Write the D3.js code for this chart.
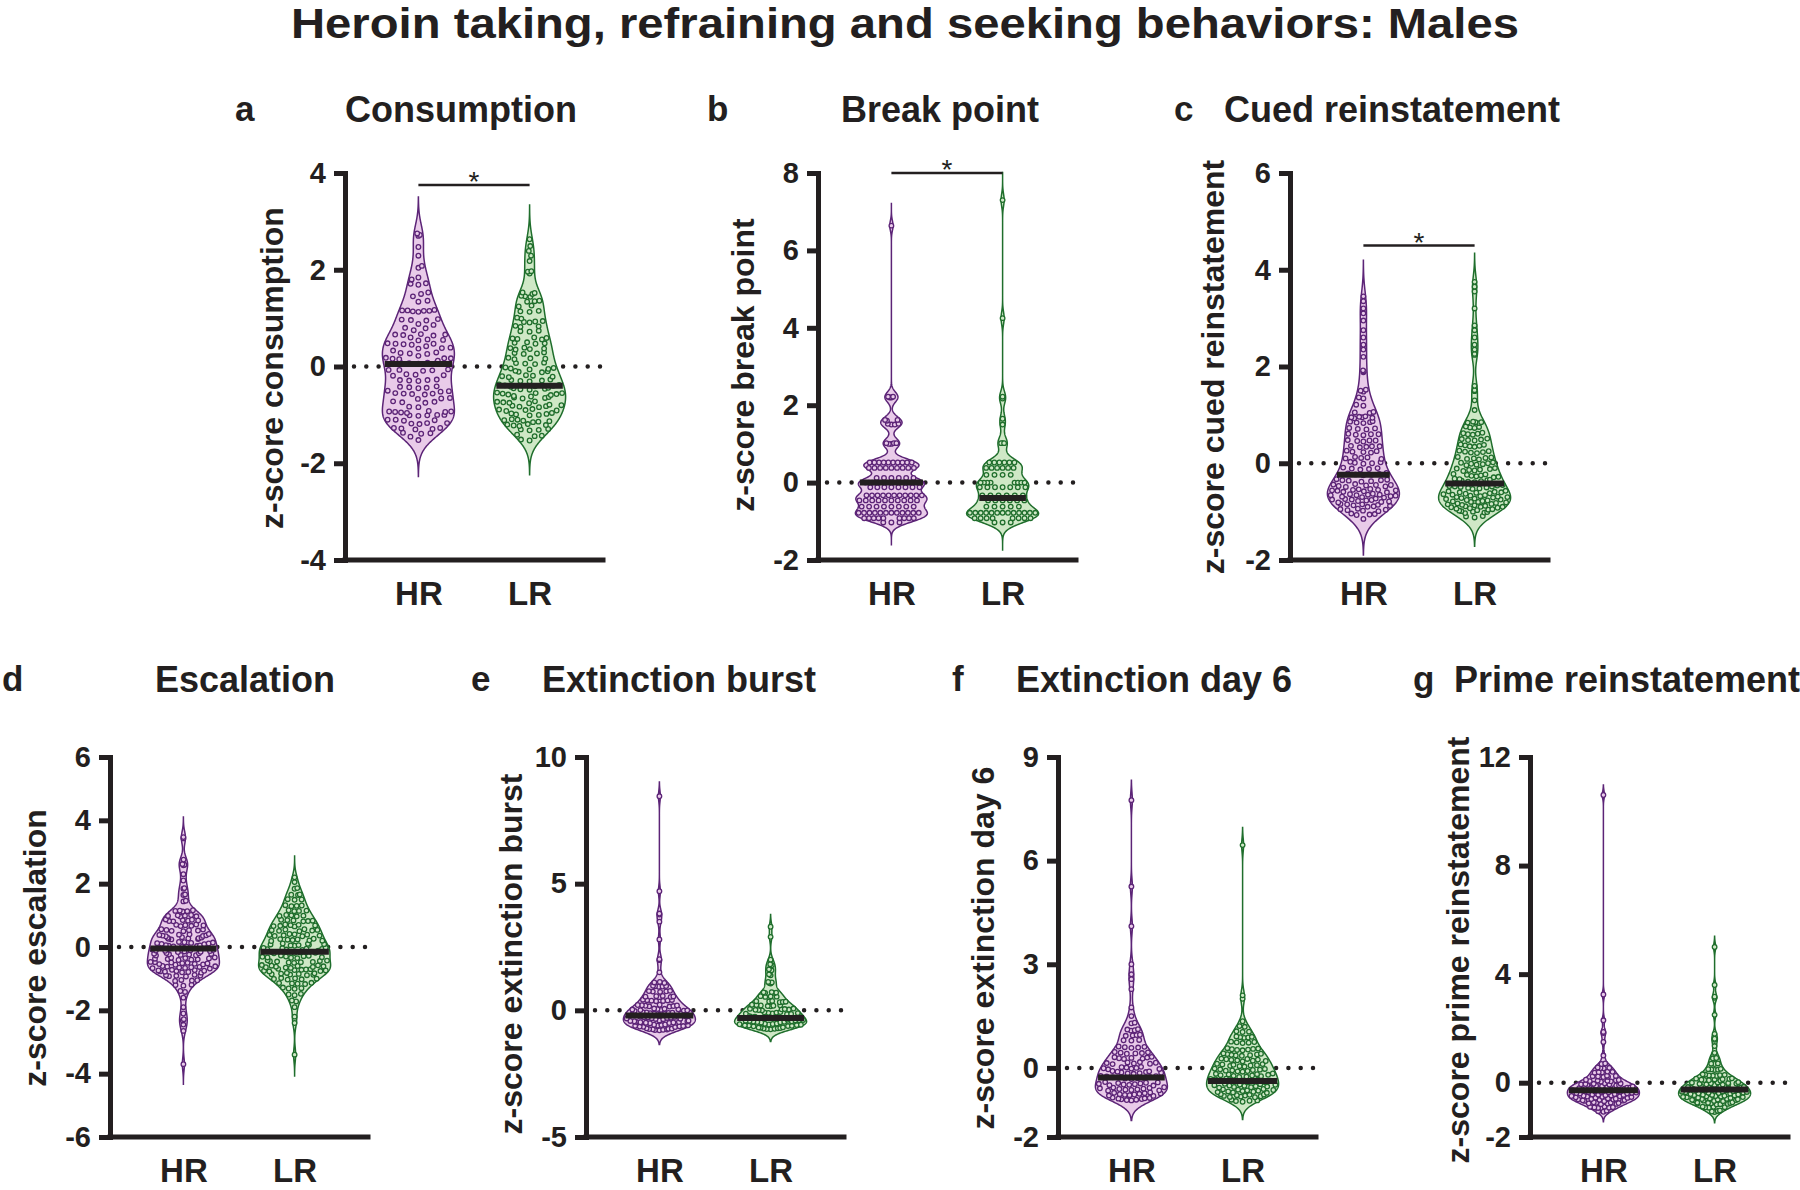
<!DOCTYPE html>
<html>
<head>
<meta charset="utf-8">
<script src="https://cdn.jsdelivr.net/npm/d3@7"></script>
<style>
  body { margin: 0; background: #fff; }
  svg text { font-family: "Liberation Sans", Arial, Helvetica, sans-serif; fill: #231f20; }
</style>
</head>
<body>
<svg id="fig" width="1800" height="1190"></svg>
<script>
// ---- data (z-scores) ----
var groups = ["HR", "LR"];
var panelLetters = ["a", "b", "c", "d", "e", "f", "g"];
var panelTitles = ["Consumption", "Break point", "Cued reinstatement", "Escalation",
    "Extinction burst", "Extinction day 6", "Prime reinstatement"];
var yLabels = ["z-score consumption", "z-score break point", "z-score cued reinstatement",
    "z-score escalation", "z-score extinction burst", "z-score extinction day 6",
    "z-score prime reinstatement"];
var yDomains = [[-4, 4], [-2, 8], [-2, 6], [-6, 6], [-5, 10], [-2, 9], [-2, 12]];
var yTicks = [[-4, -2, 0, 2, 4], [-2, 0, 2, 4, 6, 8], [-2, 0, 2, 4, 6], [-6, -4, -2, 0, 2, 4, 6],
    [-5, 0, 5, 10], [-2, 0, 3, 6, 9], [-2, 0, 4, 8, 12]];
var medians = [[0.05, -0.4], [0, -0.4], [-0.24, -0.42], [-0.05, -0.15], [-0.2, -0.3], [-0.28, -0.38], [-0.28, -0.25]];
var sigLevels = [3.75, 8, 4.5, null, null, null, null];

var consHR = [2.75,2.72,2.7,2.47,2.29,2.08,2.04,1.84,1.8,1.72,1.71,1.69,1.53,1.5,1.45,1.36,1.34,
    1.17,1.16,1.16,1.15,1.15,1.14,1.13,0.98,0.97,0.96,0.95,0.88,0.86,0.8,0.79,0.75,
    0.67,0.66,0.66,0.65,0.64,0.6,0.56,0.55,0.54,0.48,0.47,0.47,0.46,0.45,0.42,
    0.39,0.38,0.37,0.33,0.29,0.28,0.27,0.26,0.22,0.18,0.17,0.17,0.16,0.15,0.12,
    0.09,0.08,0.08,0.07,0.06,
    -0.06,-0.07,-0.07,-0.08,-0.09,-0.16,-0.17,-0.18,-0.19,-0.27,-0.28,-0.28,-0.29,-0.3,
    -0.41,-0.42,-0.43,-0.44,-0.45,-0.5,-0.51,-0.52,-0.55,-0.56,-0.56,-0.57,-0.58,
    -0.65,-0.66,-0.67,-0.72,-0.73,-0.74,-0.75,-0.83,-0.84,
    -0.92,-0.93,-0.93,-0.94,-0.94,-0.95,-0.96,-1.0,-1.0,-1.01,-1.01,-1.02,
    -1.1,-1.1,-1.11,-1.12,-1.17,-1.17,-1.18,-1.19,-1.27,-1.27,-1.28,-1.29,-1.3,
    -1.37,-1.38,-1.39,-1.45,-1.52];
var consLR = [2.63,2.49,2.39,2.29,2.18,1.97,1.96,1.92,
    1.53,1.52,1.5,1.46,1.45,1.44,1.36,1.35,1.34,1.26,1.24,1.15,1.14,1.13,1.01,0.99,
    0.94,0.93,0.92,0.91,0.84,0.83,0.82,0.74,0.73,0.72,0.6,0.59,0.58,0.57,0.56,
    0.5,0.49,0.48,0.47,0.39,0.38,0.37,0.36,0.35,0.29,0.28,0.27,0.26,0.18,0.17,0.16,0.15,
    0.08,0.07,0.06,0.05,
    -0.02,-0.03,-0.04,-0.05,-0.06,-0.09,-0.1,-0.11,-0.12,-0.18,-0.19,-0.2,-0.21,-0.22,
    -0.27,-0.28,-0.29,-0.3,-0.31,-0.37,-0.38,-0.39,-0.4,-0.41,-0.42,
    -0.44,-0.45,-0.46,-0.47,-0.48,-0.54,-0.55,-0.55,-0.56,-0.57,-0.58,-0.59,
    -0.61,-0.62,-0.63,-0.64,-0.65,-0.66,-0.72,-0.73,-0.74,-0.75,-0.76,-0.79,-0.8,-0.81,-0.82,-0.83,-0.84,
    -0.88,-0.89,-0.9,-0.91,-0.92,-0.96,-0.97,-0.98,-0.99,-1.0,-1.01,
    -1.09,-1.1,-1.11,-1.12,-1.13,-1.14,-1.15,-1.19,-1.2,-1.21,-1.22,-1.23,
    -1.29,-1.3,-1.31,-1.32,-1.41,-1.43,-1.44,-1.51,-1.53];

var bpHR = [6.64,
    2.22,2.22,2.2,2.2,
    1.62,1.62,1.6,1.52,1.52,1.5,1.5,
    1.02,1.02,1.02,1.0,1.0,
    0.52,0.52,0.52,0.52,0.52,0.52,0.52,0.52,0.52,0.52,
    0.38,0.38,0.38,0.38,0.38,0.38,0.38,0.38,0.38,
    0.12,0.12,0.12,0.12,0.12,0.12,
    0,0,0,0,0,0,0,0,0,0,
    -0.12,-0.12,-0.12,-0.12,-0.12,-0.12,-0.12,-0.12,
    -0.33,-0.33,-0.33,-0.33,-0.33,-0.33,-0.33,-0.33,-0.33,-0.33,-0.33,
    -0.46,-0.46,-0.46,-0.46,-0.46,-0.46,-0.46,-0.46,-0.46,-0.46,
    -0.62,-0.62,-0.62,-0.62,-0.62,-0.62,-0.62,-0.62,
    -0.78,-0.78,-0.78,-0.78,-0.78,-0.78,-0.78,-0.78,-0.78,-0.78,-0.78,-0.78,
    -0.92,-0.92,-0.92,-0.92,-0.92,-0.92,-0.92,-0.92,-0.92,
    -1.03,-1.03,-1.03];
var bpLR = [7.3, 4.25, 2.22, 2.17, 1.65, 1.5,
    1.02,1.02,1.02,
    0.52,0.52,0.52,0.52,0.52,0.52,
    0.38,0.38,0.38,0.38,0.38,0.38,
    0.2,0.2,0.2,0.2,
    0,0,0,0,0,0,0,0,
    -0.12,-0.12,-0.12,-0.12,-0.12,-0.12,-0.12,
    -0.33,-0.33,-0.33,-0.33,-0.33,-0.33,
    -0.46,-0.46,-0.46,-0.46,-0.46,-0.46,
    -0.62,-0.62,-0.62,-0.62,-0.62,
    -0.78,-0.78,-0.78,-0.78,-0.78,-0.78,-0.78,-0.78,-0.78,-0.78,-0.78,-0.78,-0.78,
    -0.92,-0.92,-0.92,-0.92,-0.92,-0.92,-0.92,-0.92,
    -1.03,-1.03,-1.03];

var cueHR = [3.45,3.35,3.2,3.1,2.95,2.75,2.6,2.45,2.35,2.2,
    1.92,1.9,1.88,1.52,1.5,1.48,1.36,1.34,1.21,1.19,1.06,1.05,1.04,
    0.97,0.96,0.95,0.95,0.94,0.93,0.87,0.86,0.85,0.84,0.83,0.73,0.72,0.71,0.7,
    0.61,0.6,0.6,0.59,0.58,0.48,0.47,0.47,0.46,0.45,0.36,0.35,0.35,0.34,0.33,
    0.26,0.25,0.24,0.23,0.22,0.13,0.12,0.11,0.1,0.09,
    0.03,0.02,0.01,0.0,-0.01,
    -0.09,-0.1,-0.11,-0.12,-0.13,-0.2,-0.21,-0.22,-0.23,-0.24,-0.25,
    -0.33,-0.34,-0.35,-0.35,-0.36,-0.37,-0.38,-0.43,-0.44,-0.45,-0.45,-0.46,-0.47,-0.48,-0.49,
    -0.53,-0.54,-0.55,-0.55,-0.56,-0.56,-0.57,-0.58,-0.59,-0.6,
    -0.63,-0.64,-0.65,-0.65,-0.66,-0.66,-0.67,-0.68,-0.69,-0.7,-0.71,
    -0.73,-0.74,-0.75,-0.75,-0.76,-0.77,-0.78,-0.79,-0.8,-0.81,
    -0.84,-0.85,-0.85,-0.86,-0.87,-0.88,-0.89,-0.9,
    -0.94,-0.95,-0.96,-0.97,-0.98,-0.99,-1.04,-1.05,-1.06,-1.07,-1.15];
var cueLR = [3.75,3.65,3.55,3.2,2.85,2.75,2.6,2.45,2.35,2.26,2.24,1.6,1.51,1.49,1.3,1.1,
    0.86,0.85,0.85,0.84,0.83,0.76,0.75,0.74,0.73,0.63,0.62,0.61,0.6,0.59,
    0.51,0.5,0.49,0.48,0.47,0.39,0.38,0.37,0.36,0.35,0.34,
    0.26,0.25,0.24,0.23,0.22,0.21,0.13,0.12,0.11,0.1,0.09,0.08,
    0.02,0.01,0.0,-0.01,-0.02,-0.03,-0.04,
    -0.1,-0.11,-0.12,-0.13,-0.14,-0.15,-0.16,
    -0.22,-0.23,-0.24,-0.25,-0.26,-0.27,-0.28,-0.29,
    -0.32,-0.33,-0.34,-0.35,-0.36,-0.37,-0.38,-0.39,
    -0.45,-0.46,-0.47,-0.48,-0.48,-0.49,-0.5,-0.51,-0.52,-0.53,
    -0.57,-0.58,-0.59,-0.6,-0.6,-0.61,-0.62,-0.63,-0.64,-0.65,-0.66,
    -0.67,-0.68,-0.69,-0.7,-0.7,-0.71,-0.72,-0.73,-0.74,-0.75,-0.76,-0.77,
    -0.78,-0.79,-0.8,-0.8,-0.81,-0.82,-0.83,-0.84,-0.85,-0.86,-0.87,-0.88,
    -0.89,-0.9,-0.9,-0.91,-0.92,-0.93,-0.94,-0.95,-0.96,-0.97,
    -0.98,-0.99,-1.0,-1.01,-1.02,-1.03,-1.09,-1.1,-1.12];

var escHR = [3.47,3.43,2.76,2.62,2.6,2.58,2.3,2.1,1.86,1.84,1.66,1.64,1.46,1.44,
    1.16,1.15,1.14,1.13,1.12,1.01,1.0,0.99,0.98,0.97,0.96,
    0.87,0.86,0.85,0.84,0.83,0.82,0.81,0.71,0.7,0.69,0.68,0.67,0.66,
    0.56,0.55,0.54,0.53,0.52,0.51,0.5,
    0.41,0.4,0.39,0.38,0.37,0.36,0.35,0.34,
    0.31,0.3,0.29,0.28,0.27,0.26,0.25,0.24,
    0.16,0.15,0.14,0.13,0.12,0.11,0.1,0.09,
    0.06,0.05,0.04,0.03,0.02,0.01,0.0,
    -0.08,-0.09,-0.1,-0.11,-0.12,-0.13,-0.14,-0.15,-0.16,
    -0.19,-0.2,-0.21,-0.22,-0.23,-0.24,-0.25,-0.26,-0.27,
    -0.33,-0.34,-0.35,-0.36,-0.37,-0.38,-0.39,-0.4,-0.41,
    -0.47,-0.48,-0.49,-0.5,-0.51,-0.52,-0.53,-0.54,-0.55,-0.56,
    -0.6,-0.61,-0.62,-0.63,-0.64,-0.65,-0.66,-0.67,-0.68,
    -0.72,-0.73,-0.74,-0.75,-0.76,-0.77,-0.78,-0.79,-0.8,-0.81,
    -0.88,-0.89,-0.9,-0.91,-0.92,-0.93,
    -1.04,-1.05,-1.06,-1.07,-1.19,-1.2,-1.22,-1.39,-1.42,-1.6,-1.9,-2.1,-2.28,-2.32,-2.45,-2.65,-3.7];
var escLR = [2.2,2.05,1.86,1.84,1.66,1.65,1.64,1.51,1.5,1.49,1.32,1.31,1.3,1.29,
    1.16,1.15,1.14,1.13,1.01,1.0,0.99,0.98,0.97,
    0.86,0.85,0.84,0.83,0.82,0.81,0.71,0.7,0.69,0.68,0.67,0.66,0.65,
    0.56,0.55,0.54,0.53,0.52,0.51,0.5,
    0.41,0.4,0.39,0.38,0.37,0.36,0.35,0.34,
    0.26,0.25,0.24,0.23,0.22,0.21,0.2,0.19,
    0.11,0.1,0.09,0.08,0.07,0.06,0.05,0.04,
    -0.02,-0.03,-0.04,-0.05,-0.06,-0.07,-0.08,-0.09,
    -0.12,-0.13,-0.14,-0.15,-0.16,-0.17,-0.18,-0.19,-0.2,
    -0.27,-0.28,-0.29,-0.3,-0.31,-0.32,-0.33,-0.34,-0.35,
    -0.42,-0.43,-0.44,-0.45,-0.46,-0.47,-0.48,-0.49,-0.5,
    -0.57,-0.58,-0.59,-0.6,-0.61,-0.62,-0.63,-0.64,-0.65,-0.66,
    -0.69,-0.7,-0.71,-0.72,-0.73,-0.74,-0.75,-0.76,-0.77,
    -0.82,-0.83,-0.84,-0.85,-0.86,-0.87,-0.88,-0.89,
    -0.98,-0.99,-1.0,-1.01,-1.02,-1.03,-1.13,-1.14,-1.15,-1.16,-1.17,
    -1.28,-1.3,-1.31,-1.32,-1.48,-1.5,-1.52,-1.69,-1.72,-1.9,-2.2,-2.4,-3.4];

var burstHR = [8.45,4.7,3.82,3.78,3.5,2.8,2.02,1.98,1.5,1.12,1.1,1.08,
    0.97,0.96,0.95,0.94,0.93,0.77,0.76,0.75,0.74,0.73,
    0.57,0.56,0.55,0.54,0.53,0.52,0.42,0.41,0.4,0.39,0.38,0.37,0.36,
    0.22,0.21,0.2,0.19,0.18,0.17,0.16,0.15,
    0.07,0.06,0.05,0.04,0.03,0.02,0.01,0.0,-0.01,-0.02,
    -0.07,-0.08,-0.09,-0.1,-0.11,-0.12,-0.13,-0.14,-0.15,-0.16,-0.17,
    -0.24,-0.25,-0.26,-0.27,-0.28,-0.29,-0.3,-0.31,-0.32,-0.33,-0.34,-0.35,
    -0.4,-0.41,-0.42,-0.43,-0.44,-0.45,-0.46,-0.47,-0.48,-0.49,-0.5,-0.51,
    -0.56,-0.57,-0.58,-0.59,-0.6,-0.61,-0.62,-0.63,-0.64,-0.65,-0.66,
    -0.71,-0.72,-0.73,-0.74,-0.75,-0.76,-0.77,-0.78,-0.79];
var burstLR = [3.3,2.9,2.0,1.82,1.78,1.62,1.58,1.42,1.38,1.12,1.1,1.08,1.06,
    0.72,0.71,0.7,0.69,0.68,0.56,0.55,0.54,0.53,
    0.37,0.36,0.35,0.34,0.33,0.32,0.22,0.21,0.2,0.19,0.18,0.17,0.16,
    0.07,0.06,0.05,0.04,0.03,0.02,0.01,0.0,
    -0.07,-0.08,-0.09,-0.1,-0.11,-0.12,-0.13,-0.14,-0.15,
    -0.22,-0.23,-0.24,-0.25,-0.26,-0.27,-0.28,-0.29,-0.3,-0.31,
    -0.37,-0.38,-0.39,-0.4,-0.41,-0.42,-0.43,-0.44,-0.45,-0.46,-0.47,-0.48,
    -0.52,-0.53,-0.54,-0.55,-0.56,-0.57,-0.58,-0.59,-0.6,-0.61,-0.62,-0.63,
    -0.67,-0.68,-0.69,-0.7,-0.71,-0.72,-0.73,-0.74,-0.75];

var d6HR = [7.75,5.25,4.1,3.0,2.71,2.57,2.28,1.75,1.5,1.31,1.29,
    1.12,1.11,1.09,1.08,0.96,0.95,0.94,0.93,0.81,0.8,0.79,
    0.62,0.61,0.6,0.59,0.58,0.46,0.45,0.44,0.43,0.42,0.41,
    0.32,0.31,0.3,0.29,0.28,0.27,0.26,0.17,0.16,0.15,0.14,0.13,0.12,0.11,
    0.03,0.02,0.01,0.0,-0.01,-0.02,-0.03,-0.04,
    -0.09,-0.1,-0.11,-0.12,-0.13,-0.14,-0.15,-0.16,-0.17,
    -0.23,-0.24,-0.25,-0.26,-0.27,-0.28,-0.29,-0.3,-0.31,-0.32,
    -0.41,-0.42,-0.43,-0.44,-0.45,-0.46,-0.47,-0.48,-0.49,-0.5,-0.51,
    -0.56,-0.57,-0.58,-0.59,-0.6,-0.61,-0.62,-0.63,-0.64,-0.65,-0.66,
    -0.71,-0.72,-0.73,-0.74,-0.75,-0.76,-0.77,-0.78,-0.79,-0.8,-0.81,
    -0.86,-0.87,-0.88,-0.89,-0.9,-0.91,-0.92,-0.93,-0.94];
var d6LR = [6.45,2.1,2.0,1.35,1.21,1.19,1.06,1.05,1.04,0.91,0.9,0.89,0.88,0.87,
    0.76,0.75,0.74,0.73,0.72,0.57,0.56,0.55,0.54,0.53,0.52,0.51,
    0.42,0.41,0.4,0.39,0.38,0.37,0.36,0.35,0.27,0.26,0.25,0.24,0.23,0.22,0.21,0.2,0.19,
    0.12,0.11,0.1,0.09,0.08,0.07,0.06,0.05,0.04,
    -0.02,-0.03,-0.04,-0.05,-0.06,-0.07,-0.08,-0.09,-0.1,-0.11,
    -0.16,-0.17,-0.18,-0.19,-0.2,-0.21,-0.22,-0.23,-0.24,-0.25,-0.26,
    -0.31,-0.32,-0.33,-0.34,-0.35,-0.36,-0.37,-0.38,-0.39,-0.4,-0.41,-0.42,
    -0.46,-0.47,-0.48,-0.49,-0.5,-0.51,-0.52,-0.53,-0.54,-0.55,-0.56,-0.57,
    -0.61,-0.62,-0.63,-0.64,-0.65,-0.66,-0.67,-0.68,-0.69,-0.7,-0.71,-0.72,
    -0.76,-0.77,-0.78,-0.79,-0.8,-0.81,-0.82,-0.83,-0.84,-0.85,
    -0.92,-0.94,-0.95,-0.96,-0.98];

var primeHR = [10.6,3.25,2.3,1.87,1.83,1.5,1.0,0.71,0.69,
    0.56,0.55,0.54,0.53,0.41,0.4,0.39,0.38,0.37,0.26,0.25,0.24,0.23,0.22,0.21,
    0.11,0.1,0.09,0.08,0.07,0.06,0.05,0.04,
    -0.02,-0.03,-0.04,-0.05,-0.06,-0.07,-0.08,-0.09,-0.1,-0.11,
    -0.13,-0.14,-0.15,-0.16,-0.17,-0.18,-0.19,-0.2,-0.21,-0.22,-0.23,-0.24,
    -0.26,-0.27,-0.28,-0.29,-0.3,-0.31,-0.32,-0.33,-0.34,-0.35,-0.36,-0.37,-0.38,-0.39,-0.4,
    -0.42,-0.43,-0.44,-0.45,-0.46,-0.47,-0.48,-0.49,-0.5,-0.51,-0.52,-0.53,-0.54,-0.55,-0.56,
    -0.58,-0.59,-0.6,-0.61,-0.62,-0.63,-0.64,-0.65,-0.66,-0.67,-0.68,
    -0.72,-0.73,-0.74,-0.75,-0.76,-0.77,-0.78,-0.79,
    -0.88,-0.89,-0.9,-0.91,-0.92,-0.93,-1.03,-1.05,-1.07];
var primeLR = [5.0,3.6,3.17,3.13,2.5,1.8,1.62,1.58,1.35,1.1,0.91,0.9,0.89,0.71,0.7,0.69,
    0.51,0.5,0.49,0.48,0.47,0.31,0.3,0.29,0.28,0.27,0.26,0.25,
    0.16,0.15,0.14,0.13,0.12,0.11,0.1,0.09,0.08,
    0.02,0.01,0.0,-0.01,-0.02,-0.03,-0.04,-0.05,-0.06,-0.07,-0.08,
    -0.12,-0.13,-0.14,-0.15,-0.16,-0.17,-0.18,-0.19,-0.2,-0.21,-0.22,-0.23,-0.24,
    -0.26,-0.27,-0.28,-0.29,-0.3,-0.31,-0.32,-0.33,-0.34,-0.35,-0.36,-0.37,-0.38,-0.39,-0.4,
    -0.42,-0.43,-0.44,-0.45,-0.46,-0.47,-0.48,-0.49,-0.5,-0.51,-0.52,-0.53,-0.54,-0.55,-0.56,
    -0.58,-0.59,-0.6,-0.61,-0.62,-0.63,-0.64,-0.65,-0.66,-0.67,-0.68,
    -0.72,-0.73,-0.74,-0.75,-0.76,-0.77,-0.78,-0.79,-0.8,
    -0.88,-0.89,-0.9,-0.91,-0.92,-1.02,-1.04,-1.06,-1.08];

var hrData = [consHR, bpHR, cueHR, escHR, burstHR, d6HR, primeHR];
var lrData = [consLR, bpLR, cueLR, escLR, burstLR, d6LR, primeLR];

// ---- layout (pixels) and drawing styles ----
var rows = [{top: 173, bottom: 560, titleY: 122}, {top: 757, bottom: 1137, titleY: 692}];
var layout = [
    {row: 0, ax: 345, titleX: 461, letterX: 235, labX: 283, labY: 368},
    {row: 0, ax: 818, titleX: 940, letterX: 707, labX: 754, labY: 365},
    {row: 0, ax: 1290, titleX: 1392, letterX: 1174, labX: 1224, labY: 367},
    {row: 1, ax: 110, titleX: 245, letterX: 2, labX: 46, labY: 948},
    {row: 1, ax: 586, titleX: 679, letterX: 471, labX: 522, labY: 954},
    {row: 1, ax: 1058, titleX: 1154, letterX: 952, labX: 994, labY: 948},
    {row: 1, ax: 1530, titleX: 1627, letterX: 1413, labX: 1469, labY: 950}
];
var swarmGap = [6.6, 5.8, 6.2, 6.2, 5.4, 5.6, 5.4];
var bwScale = [0.75, 0.5, 0.8, 0.7, 0.85, 0.85, 0.85];
var axisLen = 258, halfWidth = 36, ink = "#231f20";
var colors = {
    HR: {stroke: "#5c2477", fill: "#e9cbe9"},
    LR: {stroke: "#1f6e2c", fill: "#cfe8c6"}
};

var svg = d3.select("#fig");

svg.append("text")
    .attr("x", 905)
    .attr("y", 38)
    .attr("text-anchor", "middle")
    .attr("textLength", 1228)
    .attr("lengthAdjust", "spacingAndGlyphs")
    .style("font-size", "42px")
    .attr("font-weight", "bold")
    .text("Heroin taking, refraining and seeking behaviors: Males");

// silverman bandwidth
function bandwidth(sorted) {
    var sd = d3.deviation(sorted),
        iqr = (d3.quantile(sorted, 0.75) - d3.quantile(sorted, 0.25)) / 1.34;
    return 0.9 * Math.min(sd, iqr) * Math.pow(sorted.length, -0.2);
}

function density(sorted, h, v) {
    return d3.sum(sorted, function (s) {
        var u = (v - s) / h;
        return Math.exp(-0.5 * u * u);
    });
}

function swarm(sorted, y, gap) {
    var placed = [];
    sorted.forEach(function (v) {
        var p = {v: v, y: y(v)}, blocks = [];
        placed.forEach(function (q) {
            var dy = Math.abs(q.y - p.y);
            if (dy < gap) {
                var dx = Math.sqrt(gap * gap - dy * dy);
                blocks.push([q.x - dx, q.x + dx]);
            }
        });
        var cands = [0];
        blocks.forEach(function (b) { cands.push(b[0], b[1]); });
        var flip = placed.length % 2 ? 1 : -1;
        cands.sort(function (a, b) {
            return Math.abs(a) - Math.abs(b) || flip * (a - b);
        });
        p.x = cands.find(function (c) {
            return blocks.every(function (b) { return c <= b[0] + 1e-6 || c >= b[1] - 1e-6; });
        });
        placed.push(p);
    });
    return placed;
}

panelLetters.forEach(function (letter, i) {
    var L = layout[i], R = rows[L.row];
    var y = d3.scaleLinear().domain(yDomains[i]).range([R.bottom, R.top]);
    var x = d3.scalePoint().domain(groups).range([0, axisLen]).padding(0.66);
    var g = svg.append("g").attr("transform", "translate(" + L.ax + ",0)");

    // dotted zero line
    g.append("line")
        .attr("x1", 9).attr("x2", axisLen)
        .attr("y1", y(0)).attr("y2", y(0))
        .attr("stroke", ink)
        .attr("stroke-width", 4.5)
        .attr("stroke-linecap", "round")
        .attr("stroke-dasharray", "0,12.3");

    [hrData[i], lrData[i]].forEach(function (vals, k) {
        var grp = groups[k], cx = x(grp), col = colors[grp];
        var sorted = vals.slice().sort(d3.ascending);
        var h0 = bandwidth(sorted), h = h0 * bwScale[i];
        var lo = sorted[0] - 2.2 * h0, hi = sorted[sorted.length - 1] + 2.2 * h0;
        var dens = d3.range(601).map(function (j) {
            var v = lo + (hi - lo) * j / 600;
            return [v, density(sorted, h, v)];
        });
        var w = d3.scaleLinear().domain([0, d3.max(dens, function (d) { return d[1]; })]).range([0, halfWidth]);

        var area = d3.area()
            .y(function (d) { return y(d[0]); })
            .x0(function (d) { return cx - w(d[1]); })
            .x1(function (d) { return cx + w(d[1]); });

        g.append("path")
            .datum(dens)
            .attr("d", area)
            .attr("fill", col.fill)
            .attr("stroke", col.stroke)
            .attr("stroke-width", 1.5);

        // swarm, then fit each row to the violin width
        var pts = swarm(sorted, y, swarmGap[i]);
        pts.forEach(function (p) {
            var room = w(density(sorted, h, p.v)) - 3.2;
            var span = d3.max(pts, function (q) { return Math.abs(q.y - p.y) <= 3 ? Math.abs(q.x) : 0; });
            p.f = span > 0 ? Math.max(0, Math.min(1.4, room / span)) : 1;
        });
        pts.forEach(function (p) { p.x *= p.f; });

        g.selectAll(".pt" + grp)
            .data(pts)
            .enter().append("circle")
            .attr("class", "pt" + grp)
            .attr("cx", function (d) { return cx + d.x; })
            .attr("cy", function (d) { return d.y; })
            .attr("r", 2.3)
            .attr("fill", col.fill)
            .attr("stroke", col.stroke)
            .attr("stroke-width", 1.3);

        var med = medians[i][k], mw = w(density(sorted, h, med)) - 1;
        g.append("line")
            .attr("x1", cx - mw).attr("x2", cx + mw)
            .attr("y1", y(med)).attr("y2", y(med))
            .attr("stroke", ink)
            .attr("stroke-width", 6);
    });

    // axes
    var gy = g.append("g")
        .call(d3.axisLeft(y).tickValues(yTicks[i]).tickSize(11).tickSizeOuter(0).tickPadding(8)
            .tickFormat(function (d) { return "" + d; }));
    gy.select(".domain").attr("stroke", ink).attr("stroke-width", 5).attr("stroke-linecap", "square");
    gy.selectAll(".tick line").attr("stroke", ink).attr("stroke-width", 5);
    gy.selectAll(".tick text").style("font-size", "29px").attr("font-weight", "bold");

    var gx = g.append("g")
        .attr("transform", "translate(0," + R.bottom + ")")
        .call(d3.axisBottom(x).tickSize(0).tickSizeOuter(0).tickPadding(22));
    gx.select(".domain").attr("stroke", ink).attr("stroke-width", 5).attr("stroke-linecap", "square")
        .attr("d", "M0,0H" + axisLen);
    gx.selectAll(".tick text").style("font-size", "33px").attr("font-weight", "bold");

    // significance bar
    if (sigLevels[i] !== null) {
        var sy = y(sigLevels[i]);
        g.append("line")
            .attr("x1", x("HR")).attr("x2", x("LR"))
            .attr("y1", sy).attr("y2", sy)
            .attr("stroke", ink)
            .attr("stroke-width", 2.5);
        g.append("text")
            .attr("x", (x("HR") + x("LR")) / 2)
            .attr("y", sy + 6)
            .attr("text-anchor", "middle")
            .style("font-size", "28px")
            .text("*");
    }

    // titles and labels
    svg.append("text")
        .attr("x", L.titleX).attr("y", R.titleY)
        .attr("text-anchor", "middle")
        .style("font-size", "36px")
        .attr("font-weight", "bold")
        .text(panelTitles[i]);
    svg.append("text")
        .attr("x", L.letterX).attr("y", R.titleY - 1)
        .style("font-size", "35px")
        .attr("font-weight", "bold")
        .text(letter);
    svg.append("text")
        .attr("transform", "translate(" + L.labX + "," + L.labY + ") rotate(-90)")
        .attr("text-anchor", "middle")
        .style("font-size", "32px")
        .attr("font-weight", "bold")
        .text(yLabels[i]);
});
</script>
</body>
</html>
